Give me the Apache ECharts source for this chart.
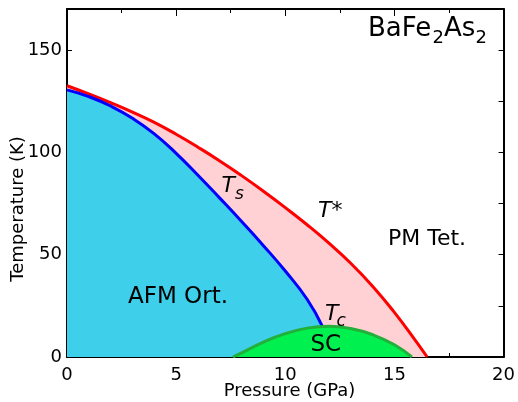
<!DOCTYPE html>
<html><head><meta charset="utf-8">
<script src="https://cdn.jsdelivr.net/npm/echarts@6/dist/echarts.min.js"></script>
<style>html,body{margin:0;padding:0;background:#fff}#c{width:518px;height:402px}</style>
</head><body><div id="c"></div>
<script>
// T* (upper phase boundary, red)
const tStarPressure = [0, 1, 2, 3, 4, 5, 6, 7, 8, 9, 10, 11, 12, 13, 14, 15, 16, 16.5];
const tStarTemp     = [132.5, 128.5, 124.2, 119.6, 114.6, 108.8, 102.5, 95.8, 88.6, 81, 73, 64.6, 55.6, 45.8, 34.6, 21.8, 7.5, 0];
// Ts (structural transition, blue)
const tsPressure = [0, 1, 2, 3, 4, 5, 6, 7, 8, 9, 10, 11, 11.7];
const tsTemp     = [130.5, 127.2, 122.6, 116.6, 109, 99.5, 88.8, 77.6, 66.2, 54.4, 42, 28.2, 15];
// Tc (superconducting dome, green)
const scPressure = [7.6, 8, 9, 10, 11, 12, 13, 14, 15, 15.8];
const scTemp     = [0, 2, 7.3, 11.4, 14.1, 15, 13.9, 10.9, 6, 0];
// axis ticks
const xTickLabels = [0, 5, 10, 15, 20];
const yTickLabels = [0, 50, 100, 150];

const pairs = (xs, ys) => xs.map((x, i) => [x, ys[i]]);
const FONT = '"DejaVu Sans", sans-serif';

const chart = echarts.init(document.getElementById('c'), null, {renderer: 'canvas'});

const xCommon = {
  type: 'value', min: 0, max: 20, interval: 5,
  axisLine: {show: true, onZero: false, lineStyle: {color: '#000', width: 2}},
  axisTick: {show: true, inside: true, length: 7, lineStyle: {color: '#000', width: 1}},
  minorTick: {show: true, splitNumber: 2, length: 4, lineStyle: {color: '#000', width: 1}},
  splitLine: {show: false}, minorSplitLine: {show: false}
};
const yCommon = {
  type: 'value', min: 0, max: 170, interval: 25,
  axisLine: {show: true, onZero: false, lineStyle: {color: '#000', width: 2}},
  axisTick: {show: true, inside: true, length: 5, lineStyle: {color: '#000', width: 1}},
  splitLine: {show: false}
};

chart.setOption({
  animation: false,
  backgroundColor: '#fff',
  grid: {left: 67, right: 7, top: 9, bottom: 45, containLabel: false},
  xAxis: [
    Object.assign({}, xCommon, {position: 'bottom',
      axisLabel: {show: true, margin: 9, color: '#000', fontSize: 18, fontFamily: FONT,
        formatter: v => xTickLabels.includes(v) ? String(v) : ''}}),
    Object.assign({}, xCommon, {position: 'top', axisLabel: {show: false}})
  ],
  yAxis: [
    Object.assign({}, yCommon, {position: 'left',
      axisLabel: {show: true, margin: 5, color: '#000', fontSize: 18, fontFamily: FONT, showMaxLabel: false,
        formatter: v => yTickLabels.includes(v) ? String(v) : ''}}),
    Object.assign({}, yCommon, {position: 'right', axisLabel: {show: false}})
  ],
  series: [
    {type: 'line', name: 'T*', data: pairs(tStarPressure, tStarTemp), smooth: 0.5, symbol: 'none',
     xAxisIndex: 0, yAxisIndex: 0, z: 2,
     lineStyle: {color: '#ff0000', width: 3}, areaStyle: {color: '#ffd0d4', opacity: 1, origin: 'start'}},
    {type: 'line', name: 'Ts', data: pairs(tsPressure, tsTemp), smooth: 0.5, symbol: 'none',
     xAxisIndex: 0, yAxisIndex: 0, z: 3,
     lineStyle: {color: '#0000ff', width: 3}, areaStyle: {color: '#3ecfea', opacity: 1, origin: 'start'}},
    {type: 'line', name: 'Tc', data: pairs(scPressure, scTemp), smooth: 0.5, symbol: 'none',
     xAxisIndex: 0, yAxisIndex: 0, z: 4,
     lineStyle: {color: '#22b03a', width: 3}, areaStyle: {color: '#00f050', opacity: 1, origin: 'start'}}
  ],
  graphic: [
    {type: 'text', x: 289.5, y: 391, z: 10, style: {text: 'Pressure (GPa)', font: '18px ' + FONT, fill: '#000', align: 'center', verticalAlign: 'middle'}},
    {type: 'text', x: 18.5, y: 209, rotation: Math.PI / 2, z: 10, style: {text: 'Temperature (K)', font: '18px ' + FONT, fill: '#000', align: 'center', verticalAlign: 'middle'}},
    {type: 'text', x: 368, y: 29.7, z: 10, style: {text: 'BaFe', font: '26px ' + FONT, fill: '#000', align: 'left', verticalAlign: 'middle'}},
    {type: 'text', x: 432.5, y: 38.5, z: 10, style: {text: '2', font: '18px ' + FONT, fill: '#000', align: 'left', verticalAlign: 'middle'}},
    {type: 'text', x: 444, y: 29.7, z: 10, style: {text: 'As', font: '26px ' + FONT, fill: '#000', align: 'left', verticalAlign: 'middle'}},
    {type: 'text', x: 475.5, y: 38.5, z: 10, style: {text: '2', font: '18px ' + FONT, fill: '#000', align: 'left', verticalAlign: 'middle'}},
    {type: 'text', x: 388, y: 239.5, z: 10, style: {text: 'PM Tet.', font: '22px ' + FONT, fill: '#000', align: 'left', verticalAlign: 'middle'}},
    {type: 'text', x: 128, y: 297, z: 10, style: {text: 'AFM Ort.', font: '23px ' + FONT, fill: '#000', align: 'left', verticalAlign: 'middle'}},
    {type: 'text', x: 310.5, y: 344.7, z: 10, style: {text: 'SC', font: '23px ' + FONT, fill: '#000', align: 'left', verticalAlign: 'middle'}},
    {type: 'text', x: 318, y: 211, z: 10, style: {text: 'T*', font: 'italic 22px ' + FONT, fill: '#000', align: 'left', verticalAlign: 'middle'}},
    {type: 'text', x: 221.5, y: 186, z: 10, style: {text: 'T', font: 'italic 22px ' + FONT, fill: '#000', align: 'left', verticalAlign: 'middle'}},
    {type: 'text', x: 235, y: 194.5, z: 10, style: {text: 's', font: 'italic 17px ' + FONT, fill: '#000', align: 'left', verticalAlign: 'middle'}},
    {type: 'text', x: 325, y: 314.7, z: 10, style: {text: 'T', font: 'italic 22px ' + FONT, fill: '#000', align: 'left', verticalAlign: 'middle'}},
    {type: 'text', x: 336.5, y: 321.5, z: 10, style: {text: 'c', font: 'italic 17px ' + FONT, fill: '#000', align: 'left', verticalAlign: 'middle'}}
  ]
});
</script>
</body></html>
